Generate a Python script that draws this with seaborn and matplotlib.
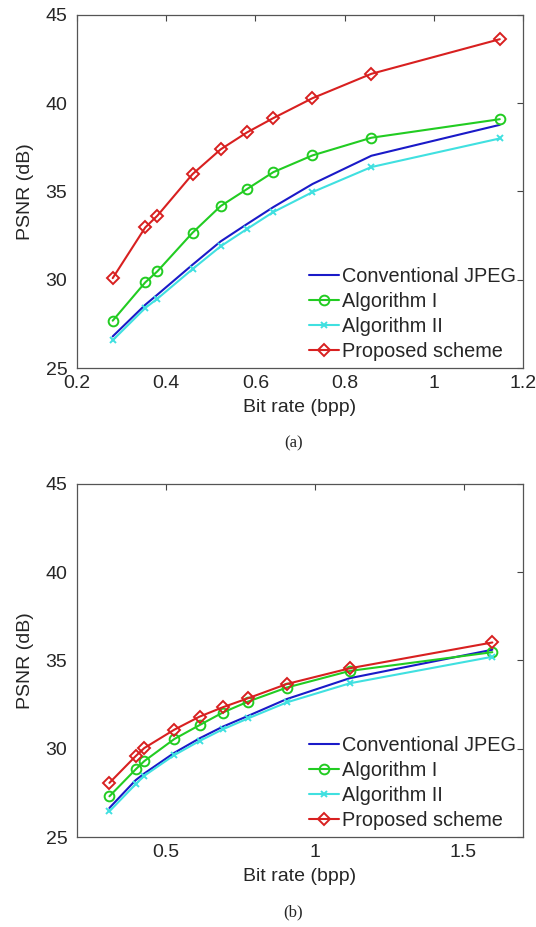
import numpy as np
import pandas as pd
import matplotlib
matplotlib.use("Agg")
import matplotlib.pyplot as plt
import seaborn as sns

# ---- data ----
rate_a = [0.280, 0.353, 0.380, 0.459, 0.522, 0.581, 0.640, 0.728, 0.860, 1.148]
jpeg_a = [26.79, 28.58, 29.15, 30.85, 32.17, 33.15, 34.11, 35.42, 37.02, 38.77]
alg1_a = [27.68, 29.85, 30.47, 32.66, 34.17, 35.13, 36.09, 37.04, 38.04, 39.09]
alg2_a = [26.57, 28.40, 28.92, 30.60, 31.89, 32.87, 33.83, 34.96, 36.38, 38.00]
prop_a = [30.09, 32.96, 33.62, 35.98, 37.38, 38.34, 39.15, 40.28, 41.66, 43.62]

rate_b = [0.309, 0.397, 0.426, 0.527, 0.612, 0.690, 0.775, 0.906, 1.118, 1.597]
jpeg_b = [26.65, 28.22, 28.60, 29.77, 30.59, 31.25, 31.86, 32.82, 34.00, 35.61]
alg1_b = [27.31, 28.83, 29.30, 30.55, 31.34, 32.05, 32.67, 33.47, 34.41, 35.47]
alg2_b = [26.46, 27.99, 28.47, 29.64, 30.44, 31.10, 31.72, 32.63, 33.71, 35.21]
prop_b = [28.07, 29.58, 30.04, 31.08, 31.82, 32.35, 32.86, 33.67, 34.56, 36.02]

series_names = ["Conventional JPEG", "Algorithm I", "Algorithm II", "Proposed scheme"]
xticks_a = [0.2, 0.4, 0.6, 0.8, 1.0, 1.2]
xticks_b = [0.5, 1.0, 1.5]
yticks = [25, 30, 35, 40, 45]

sns.set_style("white")
plt.rcParams["font.family"] = ["Liberation Sans", "DejaVu Sans"]

styles = {
    "Conventional JPEG": dict(color="#1a1ac8", marker=None),
    "Algorithm I": dict(color="#22cc22", marker="o"),
    "Algorithm II": dict(color="#40e0e0", marker="x"),
    "Proposed scheme": dict(color="#d82020", marker="D"),
}

FS = 14


def draw_panel(ax, rate, curves, xlim, xticks, xticklabels, tag):
    for name, vals in zip(series_names, curves):
        st = styles[name]
        kw = dict(color=st["color"], linewidth=1.5, label=name, sort=False, ax=ax)
        if st["marker"] == "o":
            kw.update(marker="o", markersize=7, markerfacecolor="none",
                      markeredgecolor=st["color"], markeredgewidth=1.4)
        elif st["marker"] == "x":
            kw.update(marker="x", markersize=5, markeredgecolor=st["color"],
                      markeredgewidth=1.4)
        elif st["marker"] == "D":
            kw.update(marker="D", markersize=6.5, markerfacecolor="none",
                      markeredgecolor=st["color"], markeredgewidth=1.4)
        sns.lineplot(x=rate, y=vals, **kw)
    ax.set_xlim(*xlim)
    ax.set_ylim(25, 45)
    ax.set_xticks(xticks)
    ax.set_xticklabels(xticklabels)
    ax.set_yticks(yticks)
    ax.tick_params(direction="in", length=4, width=0.8, top=True, right=True,
                   labelsize=FS, color="#444444")
    ax.tick_params(axis="x", pad=5)
    ax.tick_params(axis="y", pad=7)
    for sp in ax.spines.values():
        sp.set_visible(True)
        sp.set_color("#555555")
        sp.set_linewidth(0.9)
    ax.set_xlabel("Bit rate (bpp)", fontsize=FS, labelpad=5)
    ax.set_ylabel("PSNR (dB)", fontsize=FS, labelpad=8)
    ax.legend(loc="lower right", frameon=False, fontsize=14.3,
              handlelength=1.5, handletextpad=0.15, labelspacing=0.3,
              borderaxespad=0.0, borderpad=0.35)
    ax.text(0.485, -0.2125, tag, transform=ax.transAxes, ha="center", va="center",
            fontsize=12, family=["Liberation Serif", "DejaVu Serif"])


fig = plt.figure(figsize=(5.36, 9.27), dpi=100)
ax_a = fig.add_axes([0.1437, 0.603, 0.832, 0.381])
ax_b = fig.add_axes([0.1437, 0.097, 0.832, 0.381])

draw_panel(ax_a, rate_a, [jpeg_a, alg1_a, alg2_a, prop_a], (0.2, 1.2),
           xticks_a, ["0.2", "0.4", "0.6", "0.8", "1", "1.2"], "(a)")
draw_panel(ax_b, rate_b, [jpeg_b, alg1_b, alg2_b, prop_b], (0.2, 1.7),
           xticks_b, ["0.5", "1", "1.5"], "(b)")

fig.savefig("out.png", dpi=100, facecolor="white")
